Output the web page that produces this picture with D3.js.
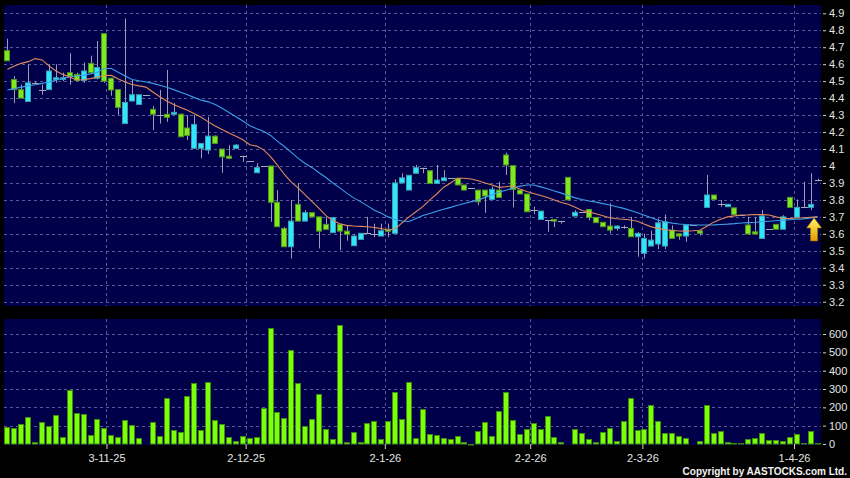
<!DOCTYPE html>
<html>
<head>
<meta charset="utf-8">
<script src="https://cdn.jsdelivr.net/npm/d3@7"></script>
<style>
body { margin: 0; background: #000; }
svg { display: block; }
</style>
</head>
<body>
<svg width="850" height="478"></svg>
<script>
// daily bars, oldest first
var open = [4.68,4.51,4.45,4.38,4.49,4.45,4.45,4.51,4.51,4.55,
4.54,4.505,4.605,4.517,4.78,4.517,4.45,4.25,4.383,4.363,
4.42,4.334,4.30,4.305,4.305,4.305,4.224,4.104,4.104,4.094,
4.176,4.10,4.058,4.104,4.06,4.03,3.96,4.00,4.00,3.786,
3.632,3.524,3.774,3.675,3.725,3.70,3.656,3.607,3.656,3.616,
3.53,3.567,3.603,3.597,3.587,3.627,3.603,3.90,3.858,3.957,
3.99,3.972,3.897,3.913,3.927,3.927,3.888,3.872,3.858,3.858,
3.803,3.858,4.065,4.002,3.858,3.835,3.74,3.685,3.681,3.685,
3.677,3.933,3.705,3.73,3.744,3.697,3.668,3.646,3.632,3.642,
3.632,3.583,3.485,3.528,3.54,3.528,3.622,3.60,3.587,3.652,
3.618,3.756,3.829,3.774,3.76,3.753,3.711,3.652,3.612,3.573,
3.627,3.656,3.627,3.815,3.697,3.756,3.756,3.917];

var high = [4.75,4.53,4.48,4.60,4.50,4.48,4.60,4.60,4.55,4.665,
4.55,4.61,4.65,4.737,4.78,4.52,4.45,4.87,4.507,4.42,
4.42,4.353,4.448,4.566,4.37,4.31,4.30,4.30,4.133,4.29,
4.18,4.10,4.123,4.13,4.06,4.03,4.016,4.00,4.00,3.858,
3.64,3.80,3.90,3.74,3.725,3.70,3.70,3.70,3.656,3.65,
3.60,3.603,3.70,3.66,3.66,3.66,3.921,3.957,3.945,4.006,
3.99,3.972,4.006,3.976,3.927,3.927,3.888,3.872,3.858,3.858,
3.88,3.907,4.078,4.002,3.858,3.835,3.76,3.734,3.681,3.685,
3.677,3.933,3.74,3.73,3.744,3.697,3.668,3.78,3.65,3.65,
3.70,3.61,3.60,3.62,3.69,3.714,3.65,3.60,3.652,3.652,
3.618,3.947,3.829,3.80,3.774,3.753,3.711,3.70,3.70,3.74,
3.627,3.656,3.71,3.815,3.803,3.907,3.957,3.925];

var low = [4.62,4.37,4.40,4.38,4.49,4.42,4.45,4.49,4.50,4.48,
4.50,4.49,4.55,4.51,4.49,4.414,4.30,4.25,4.38,4.36,
4.42,4.212,4.25,4.26,4.30,4.172,4.153,4.10,4.045,4.07,
4.13,3.96,4.04,4.10,4.025,4.03,3.96,4.00,3.671,3.642,
3.524,3.455,3.675,3.675,3.70,3.514,3.626,3.607,3.504,3.56,
3.53,3.567,3.603,3.58,3.587,3.58,3.603,3.90,3.858,3.957,
3.957,3.897,3.897,3.913,3.927,3.888,3.858,3.872,3.77,3.724,
3.803,3.815,3.947,3.756,3.835,3.730,3.717,3.685,3.612,3.64,
3.66,3.80,3.705,3.73,3.68,3.666,3.642,3.603,3.62,3.63,
3.583,3.465,3.455,3.528,3.51,3.51,3.573,3.565,3.553,3.652,
3.59,3.756,3.803,3.76,3.76,3.714,3.711,3.599,3.599,3.573,
3.627,3.627,3.627,3.756,3.697,3.756,3.74,3.91];

var close = [4.62,4.45,4.40,4.49,4.49,4.45,4.56,4.52,4.52,4.53,
4.505,4.56,4.55,4.58,4.50,4.448,4.345,4.375,4.42,4.42,
4.42,4.305,4.30,4.287,4.316,4.172,4.18,4.245,4.133,4.176,
4.133,4.054,4.045,4.123,4.06,4.03,3.99,4.00,3.786,3.642,
3.524,3.675,3.675,3.725,3.70,3.616,3.626,3.695,3.616,3.597,
3.587,3.603,3.603,3.597,3.618,3.615,3.90,3.93,3.945,3.99,
3.99,3.897,3.917,3.93,3.927,3.888,3.858,3.872,3.789,3.823,
3.862,3.815,4.006,3.862,3.835,3.730,3.74,3.734,3.681,3.675,
3.677,3.80,3.727,3.73,3.697,3.666,3.642,3.622,3.646,3.642,
3.583,3.603,3.573,3.563,3.665,3.671,3.573,3.587,3.652,3.652,
3.603,3.829,3.803,3.774,3.774,3.714,3.711,3.599,3.599,3.705,
3.627,3.627,3.70,3.756,3.756,3.756,3.774,3.917];

// volume in thousands of shares
var volume = [91,87,109,149,9,118,96,158,38,296,
171,165,49,135,87,51,36,133,104,31,
0,120,45,249,76,65,260,331,78,340,
133,107,40,16,44,33,38,195,635,176,
140,513,335,96,135,273,82,27,648,9,
64,13,113,127,25,127,284,136,336,33,
189,56,47,33,25,44,13,2,71,120,
45,182,284,131,55,82,113,82,151,36,
13,0,82,58,27,13,67,85,18,127,
251,78,84,215,127,62,62,45,35,0,
15,211,62,69,9,5,5,27,35,60,
24,24,16,36,55,4,73,4];

// moving averages
var ma10 = [4.57,4.59,4.605,4.615,4.633,4.625,4.59,4.56,4.54,4.525,
4.507,4.508,4.515,4.525,4.533,4.534,4.513,4.495,4.48,4.472,
4.465,4.436,4.408,4.383,4.362,4.345,4.329,4.308,4.287,4.26,
4.236,4.215,4.195,4.175,4.155,4.125,4.117,4.095,4.055,4.005,
3.95,3.905,3.87,3.83,3.79,3.75,3.707,3.678,3.66,3.65,
3.646,3.644,3.642,3.637,3.631,3.621,3.63,3.665,3.70,3.73,
3.76,3.80,3.835,3.875,3.90,3.928,3.928,3.923,3.913,3.90,
3.888,3.874,3.878,3.882,3.864,3.85,3.838,3.826,3.814,3.80,
3.785,3.774,3.757,3.738,3.728,3.718,3.707,3.695,3.689,3.686,
3.682,3.674,3.657,3.641,3.632,3.624,3.62,3.617,3.616,3.618,
3.621,3.645,3.669,3.686,3.70,3.706,3.711,3.712,3.714,3.713,
3.711,3.70,3.69,3.69,3.693,3.695,3.698,3.70];

var ma20 = [4.448,4.456,4.465,4.472,4.479,4.487,4.495,4.505,4.517,4.525,
4.531,4.536,4.543,4.552,4.575,4.575,4.553,4.53,4.51,4.502,
4.495,4.487,4.476,4.464,4.45,4.435,4.42,4.403,4.388,4.378,
4.362,4.34,4.315,4.29,4.265,4.237,4.22,4.205,4.18,4.145,
4.115,4.08,4.045,4.015,3.99,3.96,3.932,3.90,3.871,3.84,
3.812,3.79,3.765,3.739,3.722,3.70,3.684,3.676,3.673,3.69,
3.708,3.72,3.733,3.745,3.756,3.768,3.779,3.79,3.80,3.815,
3.83,3.845,3.857,3.87,3.88,3.888,3.888,3.877,3.866,3.853,
3.84,3.826,3.812,3.802,3.794,3.787,3.778,3.77,3.76,3.75,
3.738,3.724,3.71,3.695,3.68,3.67,3.663,3.658,3.655,3.652,
3.652,3.652,3.653,3.655,3.657,3.66,3.664,3.666,3.668,3.671,
3.674,3.677,3.68,3.683,3.686,3.688,3.694,3.70];

// date ticks (position in bars) and their labels
var tickPos = [14.3, 34.4, 54.5, 75.5, 91.7, 113.6];
var tickLabels = ["3-11-25", "2-12-25", "2-1-26", "2-2-26", "2-3-26", "1-4-26"];

var priceTicks = [3.2,3.3,3.4,3.5,3.6,3.7,3.8,3.9,4.0,4.1,4.2,4.3,4.4,4.5,4.6,4.7,4.8,4.9];
var volTicks = [0,100,200,300,400,500,600];

var svg = d3.select("svg"),
    width = +svg.attr("width"),
    height = +svg.attr("height");

var left = 4, right = 821,
    priceTop = 5, priceBottom = 306,
    volTop = 319, volBottom = 444;

var n = open.length;
var x = d3.scaleLinear().domain([-0.5, n - 0.5]).range([left, right]);
var y = d3.scaleLinear().domain([3.2, 4.9]).range([301.7, 13.3]);
var yv = d3.scaleLinear().domain([0, 600]).range([volBottom, 334]);

var font = "'Liberation Sans', Arial, sans-serif";
var crisp = function(v) { return Math.round(v) + 0.5 };

svg.append("rect").attr("width", width).attr("height", height).attr("fill", "#000");

// panels
svg.append("rect")
    .attr("x", left).attr("y", priceTop)
    .attr("width", right - left).attr("height", priceBottom - priceTop)
    .attr("fill", "#00004a");
svg.append("rect")
    .attr("x", left).attr("y", volTop)
    .attr("width", right - left).attr("height", volBottom - volTop + 1)
    .attr("fill", "#00004a");

// grid
var grid = svg.append("g")
    .attr("stroke", "#5a5a92")
    .attr("stroke-width", 1)
    .attr("stroke-dasharray", "3,3");

grid.selectAll(".gp").data(priceTicks).enter().append("line")
    .attr("x1", left).attr("x2", right)
    .attr("y1", function(d) { return crisp(y(d)) })
    .attr("y2", function(d) { return crisp(y(d)) });

grid.selectAll(".gv").data(volTicks.slice(1)).enter().append("line")
    .attr("x1", left).attr("x2", right)
    .attr("y1", function(d) { return crisp(yv(d)) })
    .attr("y2", function(d) { return crisp(yv(d)) });

grid.selectAll(".gx").data(tickPos).enter().append("line")
    .attr("x1", function(d) { return crisp(x(d)) })
    .attr("x2", function(d) { return crisp(x(d)) })
    .attr("y1", priceTop).attr("y2", priceBottom);

grid.selectAll(".gx2").data(tickPos).enter().append("line")
    .attr("x1", function(d) { return crisp(x(d)) })
    .attr("x2", function(d) { return crisp(x(d)) })
    .attr("y1", volTop).attr("y2", volBottom);

var idx = d3.range(n);

// volume bars
svg.append("g").selectAll("rect")
    .data(idx.filter(function(i) { return volume[i] > 0 }))
    .enter().append("rect")
    .attr("x", function(i) { return Math.round(x(i)) - 2.5 })
    .attr("width", 5)
    .attr("y", function(i) { return Math.round(yv(volume[i])) + 0.5 })
    .attr("height", function(i) { return Math.max(volBottom - Math.round(yv(volume[i])) - 0.5, 0.5) })
    .attr("fill", "#7cff0a")
    .attr("stroke", "#3f8a0c")
    .attr("stroke-width", 1);

// wicks
svg.append("g").selectAll("line")
    .data(idx)
    .enter().append("line")
    .attr("x1", function(i) { return crisp(x(i)) })
    .attr("x2", function(i) { return crisp(x(i)) })
    .attr("y1", function(i) { return y(high[i]) })
    .attr("y2", function(i) { return y(low[i]) })
    .attr("stroke", "#9c9cb0")
    .attr("stroke-width", 1);

// candle bodies
var bodies = idx.filter(function(i) { return open[i] !== close[i] });
var dojis = idx.filter(function(i) { return open[i] === close[i] });

svg.append("g").selectAll("rect")
    .data(bodies)
    .enter().append("rect")
    .attr("x", function(i) { return Math.round(x(i)) - 2.5 })
    .attr("width", 5)
    .attr("y", function(i) { return y(Math.max(open[i], close[i])) })
    .attr("height", function(i) { return Math.max(Math.abs(y(open[i]) - y(close[i])), 1) })
    .attr("fill", function(i) { return close[i] > open[i] ? "#30e6fa" : "#80e81e" })
    .attr("stroke", function(i) { return close[i] > open[i] ? "#3b9fb4" : "#4f9422" })
    .attr("stroke-width", 1);

svg.append("g").selectAll("line")
    .data(dojis)
    .enter().append("line")
    .attr("x1", function(i) { return Math.round(x(i)) - 3 })
    .attr("x2", function(i) { return Math.round(x(i)) + 4 })
    .attr("y1", function(i) { return crisp(y(close[i])) })
    .attr("y2", function(i) { return crisp(y(close[i])) })
    .attr("stroke", "#a6a6bc")
    .attr("stroke-width", 1);

// moving averages
var line10 = d3.line()
    .x(function(d, i) { return x(i) })
    .y(function(d) { return y(d) });

svg.append("path").datum(ma20)
    .attr("d", line10)
    .attr("fill", "none")
    .attr("stroke", "#3c9fe6")
    .attr("stroke-width", 1.1);

svg.append("path").datum(ma10)
    .attr("d", line10)
    .attr("fill", "none")
    .attr("stroke", "#e08a5a")
    .attr("stroke-width", 1.1);

// arrow marking the latest bar
var grad = svg.append("defs").append("linearGradient")
    .attr("id", "arrowFill").attr("x1", 0).attr("y1", 0).attr("x2", 0).attr("y2", 1);
grad.append("stop").attr("offset", "0%").attr("stop-color", "#fff36a");
grad.append("stop").attr("offset", "100%").attr("stop-color", "#e39a00");

var ax = x(n - 1.5), ay = y(ma20[n - 1]) + 1;
svg.append("path")
    .attr("d", "M" + ax + "," + ay +
        "L" + (ax + 7.5) + "," + (ay + 10) +
        "L" + (ax + 3.5) + "," + (ay + 10) +
        "L" + (ax + 3.5) + "," + (ay + 23) +
        "L" + (ax - 3.5) + "," + (ay + 23) +
        "L" + (ax - 3.5) + "," + (ay + 10) +
        "L" + (ax - 7.5) + "," + (ay + 10) + "Z")
    .attr("fill", "url(#arrowFill)")
    .attr("stroke", "#b07800")
    .attr("stroke-width", 0.6);

// right axes
function styleAxis(g) {
    g.select(".domain").remove();
    g.selectAll(".tick line").attr("stroke", "#d0d0d0");
    g.selectAll(".tick text")
        .attr("fill", "#e4e4e4")
        .style("font-family", font)
        .style("font-size", "11px");
}

svg.append("g")
    .attr("transform", "translate(823,0)")
    .call(d3.axisRight(y).tickValues(priceTicks).tickSize(3).tickPadding(3)
        .tickFormat(function(d) { return String(+d.toFixed(1)) }))
    .call(styleAxis);

svg.append("g")
    .attr("transform", "translate(823,0)")
    .call(d3.axisRight(yv).tickValues(volTicks).tickSize(3).tickPadding(3))
    .call(styleAxis);

// date axis
svg.append("g")
    .attr("transform", "translate(0," + volBottom + ")")
    .call(d3.axisBottom(x).tickValues(tickPos).tickSize(5).tickPadding(5)
        .tickFormat(function(d, i) { return tickLabels[i] }))
    .call(styleAxis);

svg.append("text")
    .attr("x", 847).attr("y", 475)
    .attr("text-anchor", "end")
    .attr("fill", "#f2f2f2")
    .style("font-family", font)
    .style("font-size", "10px")
    .style("font-weight", "bold")
    .text("Copyright by AASTOCKS.com Ltd.");
</script>
</body>
</html>
